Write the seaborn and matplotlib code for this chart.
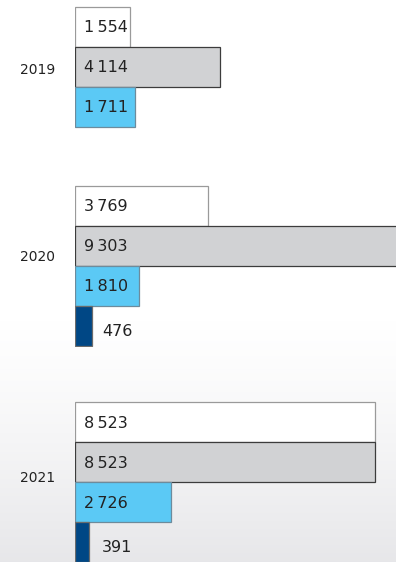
import numpy as np
import pandas as pd
import matplotlib
matplotlib.use("Agg")
import matplotlib.pyplot as plt
import seaborn as sns

# ---- data -------------------------------------------------------------
years = ["2019", "2020", "2021"]
series = ["A", "B", "C", "D"]
values_a = [1554, 3769, 8523]
values_b = [4114, 9303, 8523]
values_c = [1711, 1810, 2726]
values_d = [np.nan, 476, 391]

# ---- styling ----------------------------------------------------------
fills = ["#ffffff", "#d1d2d4", "#5bc9f5", "#004785"]
edges = ["#9a9a9a", "#3c3c3c", "#6d8b9c", "#6b6b6b"]
text_color = "#222222"

W, H = 396, 562          # figure size in pixels
x0 = 75                  # left edge of the bars (px)
x_max = 9106             # value shown at the right edge of the figure
slot = 40                # bar height (px)
group_tops = [7, 186, 402]
year_label_y = [70, 257, 478]
year_label_x = 20

df = pd.DataFrame({
    "year": np.repeat(years, len(series)),
    "series": series * len(years),
    "value": [v for trio in zip(values_a, values_b, values_c, values_d) for v in trio],
})

sns.set_theme(style="white")
plt.rcParams["font.family"] = ["DejaVu Sans"]

fig = plt.figure(figsize=(W / 100, H / 100), dpi=100)

# soft background: white at the top, fading to light grey at the bottom
bg = fig.add_axes([0, 0, 1, 1], zorder=-10)
rows = np.arange(H)
t = np.clip((rows - 320) / (H - 320), 0, 1)
t = (t ** 1.3)[:, None]
top_c = np.array([1.0, 1.0, 1.0])
bot_c = np.array([0.905, 0.905, 0.915])
img = (1 - t)[:, :, None] * top_c + t[:, :, None] * bot_c
img = np.repeat(img, W, axis=1)
bg.imshow(img, aspect="auto", extent=[0, 1, 0, 1], origin="upper")
bg.axis("off")

n = len(series)
for i, year in enumerate(years):
    top = group_tops[i]
    ax = fig.add_axes([x0 / W, 1 - (top + n * slot + 1) / H,
                       (W - x0) / W, (n * slot + 2) / H])
    ax.patch.set_alpha(0)
    sub = df[df["year"] == year].dropna()
    for j, s in enumerate(series):
        rows_s = sub[sub["series"] == s]
        if rows_s.empty:
            continue
        sns.barplot(data=rows_s, x="value", y="series", order=series,
                    color=fills[j], edgecolor=edges[j], linewidth=0.9,
                    width=1.0, saturation=1, orient="h", errorbar=None, ax=ax)
    ax.set_xlim(0, x_max)
    ax.set_ylim(n - 0.5 + 1 / slot, -0.5 - 1 / slot)
    ax.axis("off")

    for j, s in enumerate(series):
        rows_s = sub[sub["series"] == s]
        if rows_s.empty:
            continue
        v = float(rows_s["value"].iloc[0])
        width_px = ax.transData.transform((v, 0))[0] - ax.transData.transform((0, 0))[0]
        inside = width_px > 40
        dx = 9 if inside else 27
        dy = -1 if inside else -5
        label = f"{int(v):,}".replace(",", "\u2009")
        ax.annotate(label, xy=(0, j), xycoords="data", xytext=(dx, dy),
                    textcoords="offset pixels", ha="left", va="center",
                    fontsize=11.5, color=text_color, annotation_clip=False)

    fig.text(year_label_x / W, 1 - year_label_y[i] / H, year,
             ha="left", va="center", fontsize=10, color=text_color)

fig.savefig("out.png", dpi=100)
